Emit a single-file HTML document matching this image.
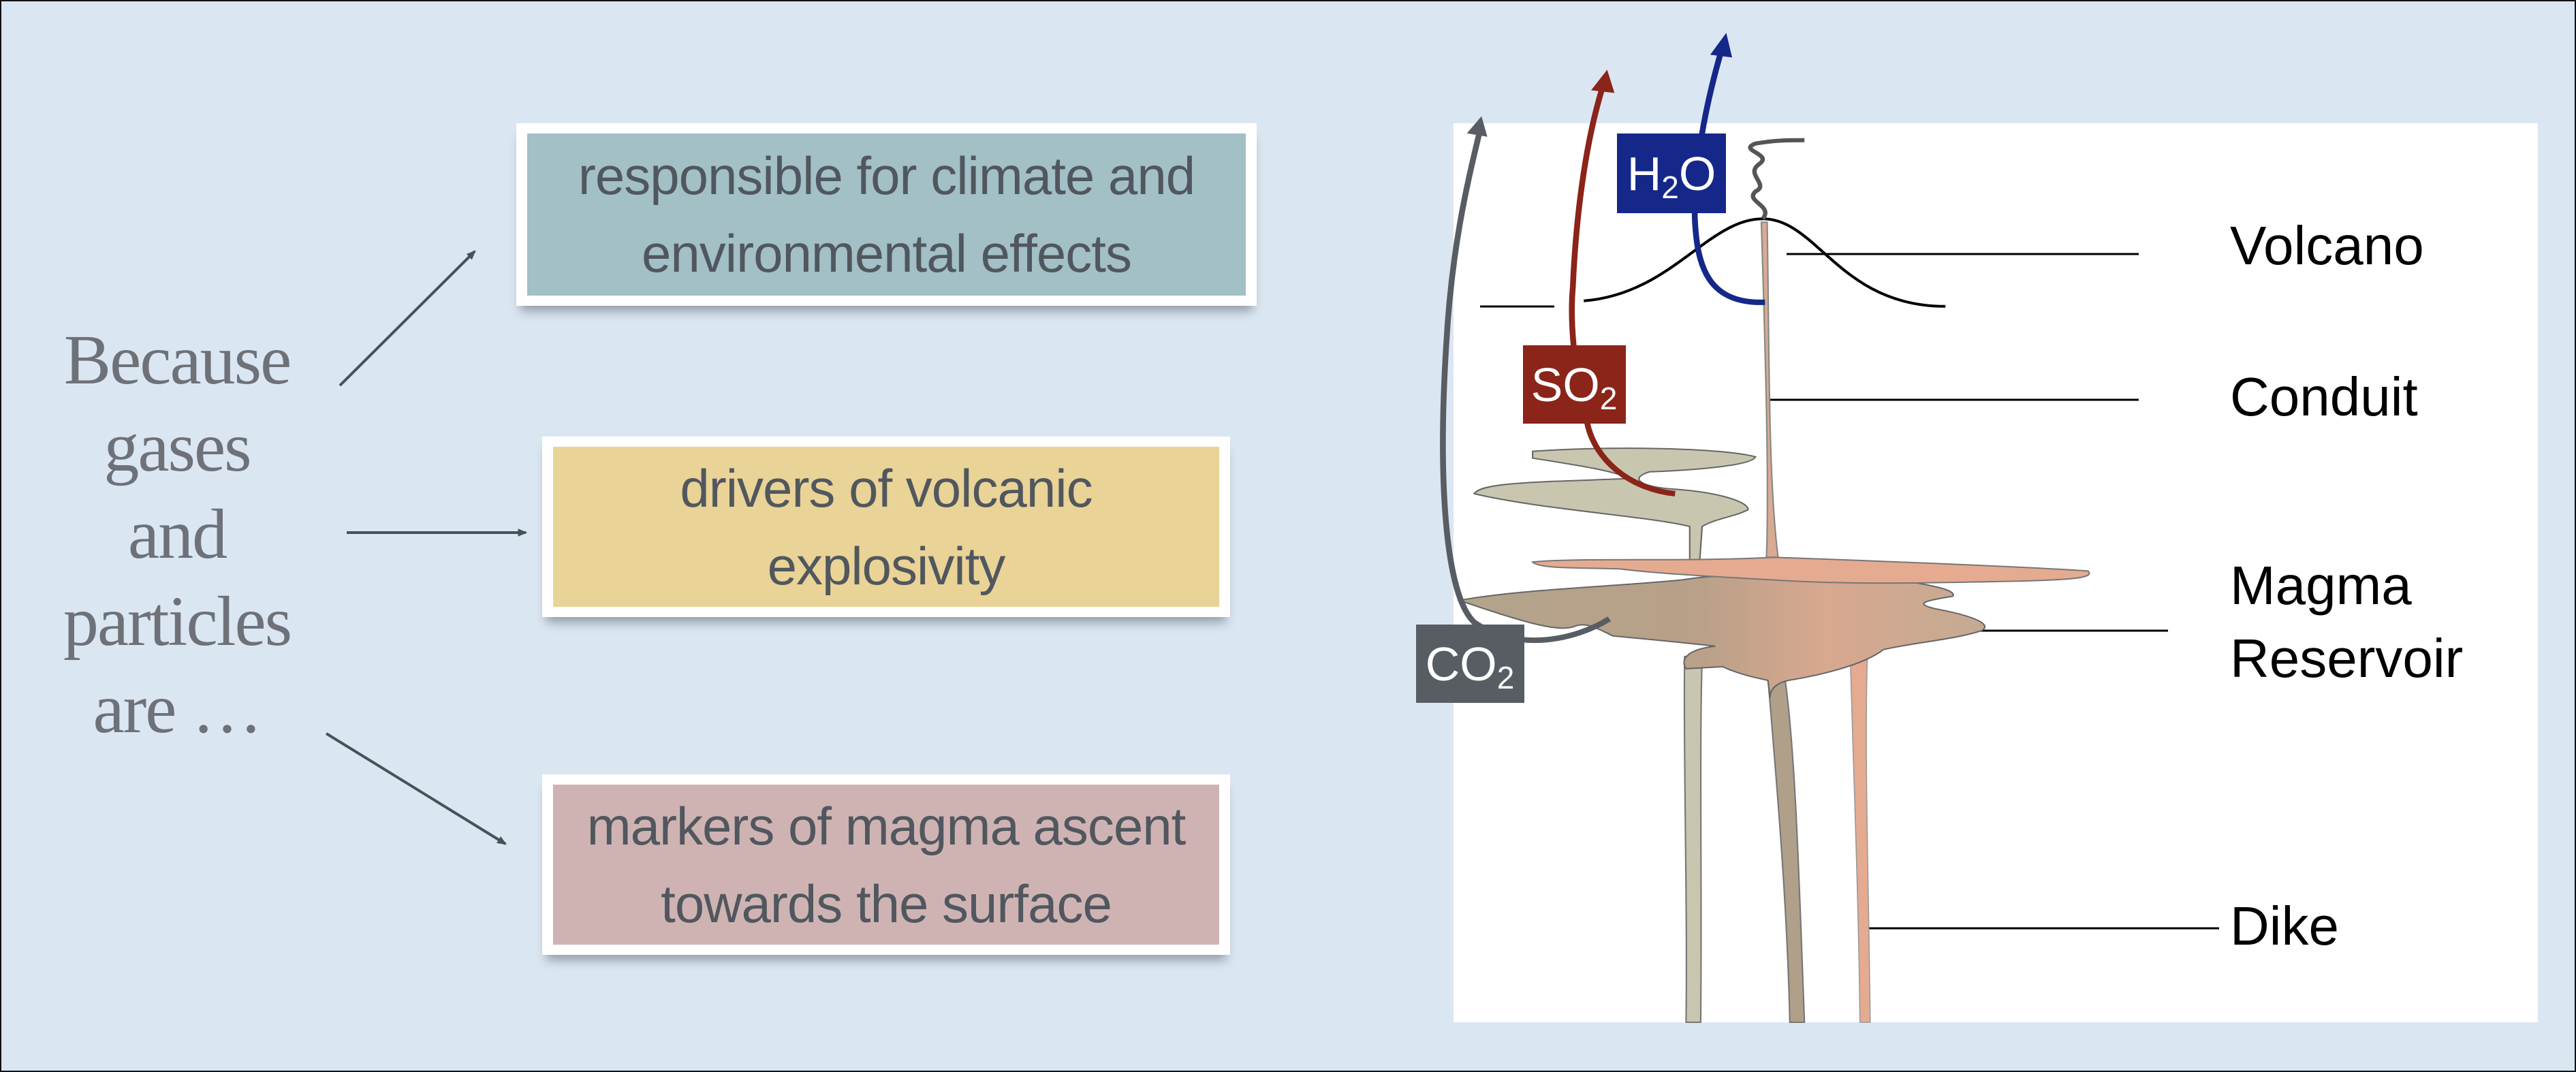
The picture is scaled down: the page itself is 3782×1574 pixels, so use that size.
<!DOCTYPE html>
<html><head><meta charset="utf-8"><style>
body{margin:0;width:3782px;height:1574px;overflow:hidden;background:#dbe6f3;position:relative;font-family:"Liberation Sans",sans-serif}
.frame{position:absolute;left:0;top:0;width:3778px;height:1570px;border:2px solid #111}
.box{position:absolute;background:#fff;box-shadow:0 14px 14px -6px rgba(60,70,80,.45)}
.inner{position:absolute;left:16px;right:16px;top:15px;bottom:15px;display:flex;align-items:center;justify-content:center;text-align:center;color:#51575e;font-size:78px;line-height:114px;letter-spacing:-1px}
.left{position:absolute;left:20px;width:480px;top:465px;text-align:center;font-family:"Liberation Serif",serif;color:#6e7278;font-size:104px;line-height:128px;letter-spacing:-2px}
.lbl{position:absolute;font-size:80px;color:#000;line-height:100px}
</style></head><body>
<div class="frame"></div>
<div class="box" style="left:758px;top:181px;width:1087px;height:268px"><div class="inner" style="background:#a2c0c6">responsible for climate and<br>environmental effects</div></div>
<div class="box" style="left:796px;top:641px;width:1010px;height:265px"><div class="inner" style="background:#e9d396">drivers of volcanic<br>explosivity</div></div>
<div class="box" style="left:796px;top:1137px;width:1010px;height:265px"><div class="inner" style="background:#cfb3b3">markers of magma ascent<br>towards the surface</div></div>
<div class="left">Because<br>gases<br>and<br>particles<br>are …</div>
<div style="position:absolute;left:2134px;top:181px;width:1592px;height:1320px;background:#fff"></div>
<svg width="3782" height="1574" style="position:absolute;left:0;top:0">
<defs>
<marker id="a" markerWidth="14" markerHeight="14" refX="10" refY="6" orient="auto" markerUnits="userSpaceOnUse" viewBox="0 0 12 12"><path d="M0,1 L12,6 L0,11z" fill="#4a5058"/></marker>
<linearGradient id="g" x1="0" x2="1"><stop offset="0" stop-color="#b3a48c"/><stop offset="0.45" stop-color="#b9a088"/><stop offset="0.7" stop-color="#d8a890"/><stop offset="1" stop-color="#c4aa92"/></linearGradient>
</defs>
<g stroke="#4a5058" stroke-width="4" fill="none">
<line x1="499" y1="566" x2="697" y2="369" marker-end="url(#a)"/>
<line x1="509" y1="782" x2="772" y2="782" marker-end="url(#a)"/>
<line x1="479" y1="1077" x2="742" y2="1239" marker-end="url(#a)"/>
</g>
<g stroke="#000" stroke-width="3">
<line x1="2173" y1="450" x2="2282" y2="450"/>
<line x1="2623" y1="373" x2="3140" y2="373"/>
<line x1="2599" y1="587" x2="3140" y2="587"/>
<line x1="2781" y1="926" x2="3183" y2="926"/>
<line x1="2740" y1="1363" x2="3258" y2="1363"/>
</g>
<g transform="translate(2100,0) scale(1.0727,1.004)">
<path d="M348,960 L372,960 C368,1100 372,1300 370,1495 L350,1495 C352,1300 346,1100 348,960Z" fill="#c9c6b0" stroke="#777" stroke-width="2"/>
<path d="M462,990 L485,990 C500,1100 505,1300 512,1495 L492,1495 C488,1300 470,1100 462,990Z" fill="#b0a08a" stroke="#777" stroke-width="2"/>
<path d="M575,965 L598,965 C594,1100 600,1300 602,1495 L588,1495 C586,1300 578,1100 575,965Z" fill="#e5ab90" stroke="#999" stroke-width="1.5"/>
<path d="M453,325 L461,325 C464,500 462,700 476,815 L460,815 C464,700 458,500 453,325Z" fill="#d8ab92" stroke="#888" stroke-width="2"/>
<path d="M140,660 C250,652 400,655 445,668 C440,682 350,688 300,690 C270,700 290,712 330,715 C400,720 435,735 435,745 C420,755 390,758 372,770 L368,830 L355,830 L355,770 C300,755 150,745 60,722 C70,705 150,705 270,700 C260,690 200,680 140,670Z" fill="#c9c6b0" stroke="#666" stroke-width="2"/>
<path d="M40,878 C120,862 250,858 345,848 C420,835 560,838 650,850 C700,858 720,865 715,872 C680,878 660,882 690,890 C740,900 770,912 755,922 C720,935 660,940 620,950 C590,975 520,990 490,995 C470,1000 465,1010 465,1020 L462,995 C440,990 420,985 400,975 L350,978 C342,965 350,950 390,945 C350,940 300,935 250,930 C230,920 215,910 200,915 C180,925 140,915 40,878Z" fill="url(#g)" stroke="#666" stroke-width="2"/>
<path d="M140,822 C200,815 350,822 470,815 C600,820 800,828 900,835 C910,845 880,848 800,850 C700,852 600,855 500,850 C420,845 320,840 260,832 C200,830 150,832 140,822Z" fill="#e5ab90" stroke="#777" stroke-width="2"/>
<path d="M210,440 C330,430 380,320 455,320 C530,320 560,448 705,448" fill="none" stroke="#000" stroke-width="4"/>
<path d="M455,320 C470,300 430,295 445,280 C465,270 430,255 450,240 C470,225 420,220 445,210 C470,205 490,205 512,205" fill="none" stroke="#555" stroke-width="6"/>
<path d="M245,905 C200,935 120,955 60,910 C20,870 10,700 22,500 C30,350 55,250 68,190" fill="none" stroke="#575d63" stroke-width="8"/>
<path d="M50,195 L70,170 L78,200Z" fill="#575d63"/>
<path d="M335,722 C270,715 225,670 215,620 C200,560 190,480 195,420 C200,300 215,200 235,130" fill="none" stroke="#8b2419" stroke-width="8"/>
<path d="M220,132 L242,102 L252,136Z" fill="#8b2419"/>
<path d="M458,442 C380,445 365,390 362,320 C360,250 375,160 398,75" fill="none" stroke="#15288a" stroke-width="8"/>
<path d="M383,80 L405,48 L413,84Z" fill="#15288a"/>
</g>
<rect x="2079" y="917" width="159" height="115" fill="#575d63"/>
<rect x="2236" y="507" width="151" height="115" fill="#8b2419"/>
<rect x="2374" y="196" width="160" height="117" fill="#15288a"/>
<g fill="#fff" font-family="Liberation Sans, sans-serif" font-size="70" text-anchor="middle">
<text x="2158" y="999">CO<tspan font-size="46" dy="12">2</tspan></text>
<text x="2311" y="589">SO<tspan font-size="46" dy="12">2</tspan></text>
<text x="2454" y="279">H<tspan font-size="46" dy="12">2</tspan><tspan dy="-12">O</tspan></text>
</g>
</svg>
<div class="lbl" style="left:3274px;top:311px">Volcano</div>
<div class="lbl" style="left:3274px;top:533px">Conduit</div>
<div class="lbl" style="left:3274px;top:810px">Magma</div>
<div class="lbl" style="left:3274px;top:917px">Reservoir</div>
<div class="lbl" style="left:3274px;top:1310px">Dike</div>
</body></html>
